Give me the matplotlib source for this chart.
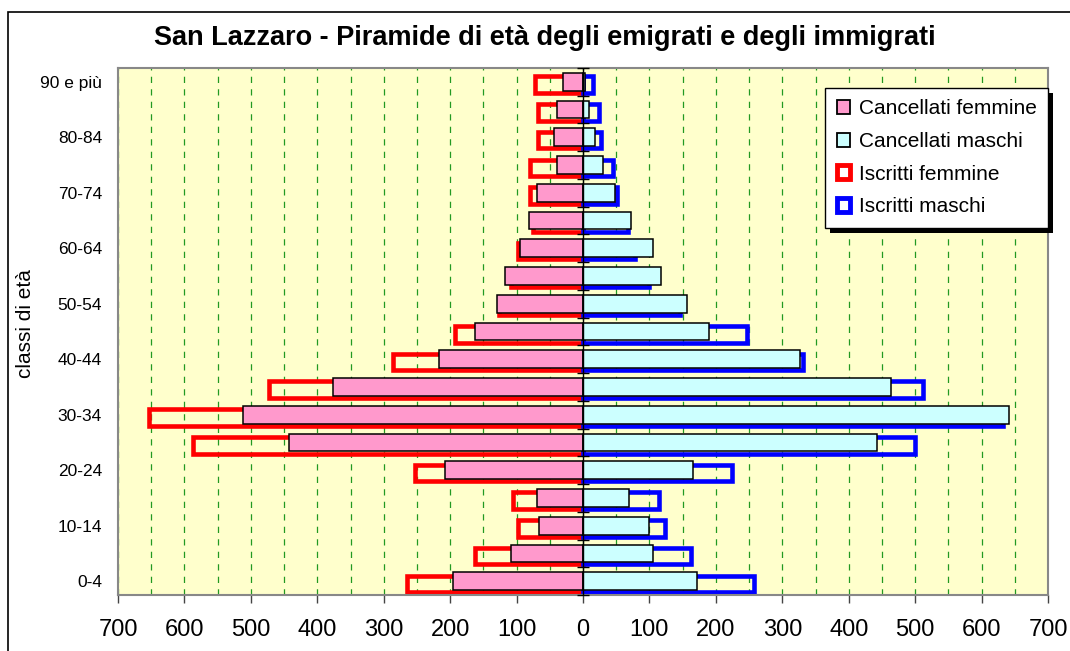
import matplotlib
matplotlib.use("Agg")
import matplotlib.pyplot as plt
from matplotlib.patches import Patch, Rectangle
from matplotlib.ticker import FuncFormatter, MultipleLocator
import numpy as np

categories = ['0-4', '5-9', '10-14', '15-19', '20-24', '25-29', '30-34', '35-39',
              '40-44', '45-49', '50-54', '55-59', '60-64', '65-69', '70-74',
              '75-79', '80-84', '85-89', '90 e più']
canc_f = [196, 108, 66, 69, 208, 443, 512, 376, 217, 163, 129, 117, 95, 81, 69, 39, 43, 39, 30]
canc_m = [172, 105, 100, 69, 166, 443, 641, 464, 326, 190, 157, 117, 106, 72, 48, 30, 18, 9, 3]
iscr_f = [265, 162, 98, 105, 253, 587, 653, 472, 286, 193, 126, 108, 98, 76, 80, 80, 68, 68, 72]
iscr_m = [258, 163, 123, 114, 225, 500, 632, 512, 331, 247, 146, 100, 79, 67, 51, 45, 27, 24, 15]
xticks = [-700, -600, -500, -400, -300, -200, -100, 0, 100, 200, 300, 400, 500, 600, 700]

plt.rcParams['font.family'] = ['Liberation Sans', 'DejaVu Sans']

W, H = 1070, 651
fig = plt.figure(figsize=(W / 100, H / 100), dpi=100)
ax = fig.add_axes([118 / W, 1 - 595 / H, 930 / W, 527 / H])
ax.set_facecolor('#FFFFCC')

y = np.arange(len(categories))
h_c = 0.64
h_i = 0.60
off_i = -0.10

# iscritti (outlines)
ax.barh(y + off_i, [-v for v in iscr_f], height=h_i, facecolor='none',
        edgecolor='#FF0000', linewidth=3.3, zorder=2)
ax.barh(y + off_i, iscr_m, height=h_i, facecolor='none',
        edgecolor='#0000FF', linewidth=3.3, zorder=2)
# cancellati (filled)
ax.barh(y, [-v for v in canc_f], height=h_c, facecolor='#FF99CC',
        edgecolor='black', linewidth=1.1, zorder=3)
ax.barh(y, canc_m, height=h_c, facecolor='#CCFFFF',
        edgecolor='black', linewidth=1.1, zorder=3)

ax.set_xlim(-700, 700)
ax.set_ylim(-0.5, len(categories) - 0.5)

# gridlines every 50
ax.xaxis.set_minor_locator(MultipleLocator(50))
ax.set_xticks(xticks)
ax.grid(axis='x', which='both', color='#229922', linestyle=(0, (5, 5)), linewidth=0.9, zorder=1)
ax.set_axisbelow(True)
ax.xaxis.set_major_formatter(FuncFormatter(lambda v, p: f"{abs(int(v))}"))
ax.tick_params(axis='x', which='major', length=6, width=1, color='#444444',
               labelsize=17, pad=11)
ax.tick_params(axis='x', which='minor', length=0)

# category axis at zero
ax.axvline(0, color='black', linewidth=1.0, zorder=4)
ax.plot([0] * (len(categories) + 1), np.arange(-0.5, len(categories), 1.0),
        linestyle='none', marker='_', markersize=8, color='black', zorder=4,
        markeredgewidth=1.0, clip_on=False)

ax.set_yticks(y[::2])
ax.set_yticklabels(categories[::2])
ax.tick_params(axis='y', length=0, labelsize=12.5, pad=11.5)

for s in ax.spines.values():
    s.set_color('#888888')
    s.set_linewidth(1.5)

ax.set_ylabel('classi di età', fontsize=15)
ax.yaxis.set_label_coords(-(118 - 35) / 930, (595 - 324) / 527)

fig.text(545 / W, 1 - 45 / H, 'San Lazzaro - Piramide di età degli emigrati e degli immigrati',
         ha='center', va='baseline', fontsize=19.5, fontweight='bold')

# outer frame
fig.patches.append(Rectangle((8 / W, -0.05), 1.1, 1 - 12 / H + 0.05,
                             transform=fig.transFigure, fill=False,
                             edgecolor='black', linewidth=1.2))

handles = [
    Patch(facecolor='#FF99CC', edgecolor='black', linewidth=1.3, label='Cancellati femmine'),
    Patch(facecolor='#CCFFFF', edgecolor='black', linewidth=1.3, label='Cancellati maschi'),
    Patch(facecolor='white', edgecolor='#FF0000', linewidth=3.5, label='Iscritti femmine'),
    Patch(facecolor='white', edgecolor='#0000FF', linewidth=3.5, label='Iscritti maschi'),
]
leg = ax.legend(handles=handles, loc='upper right', bbox_to_anchor=(1.0, (595 - 88) / 527),
                fontsize=15, frameon=True, fancybox=False, edgecolor='black',
                framealpha=1, borderpad=0.55, labelspacing=0.65, handlelength=0.65,
                handleheight=0.65, handletextpad=0.4, borderaxespad=0.0)
leg.get_frame().set_linewidth(1.0)
leg.set_zorder(10)

# legend shadow (offset 5 px right/down)
fig.canvas.draw()
bb = leg.get_window_extent()
shadow = Rectangle((bb.x0 + 5, bb.y0 - 5), bb.width, bb.height, transform=None,
                   facecolor='black', edgecolor='none', zorder=9)
ax.add_artist(shadow)
shadow.set_clip_on(False)

fig.savefig('out.png', dpi=100)
